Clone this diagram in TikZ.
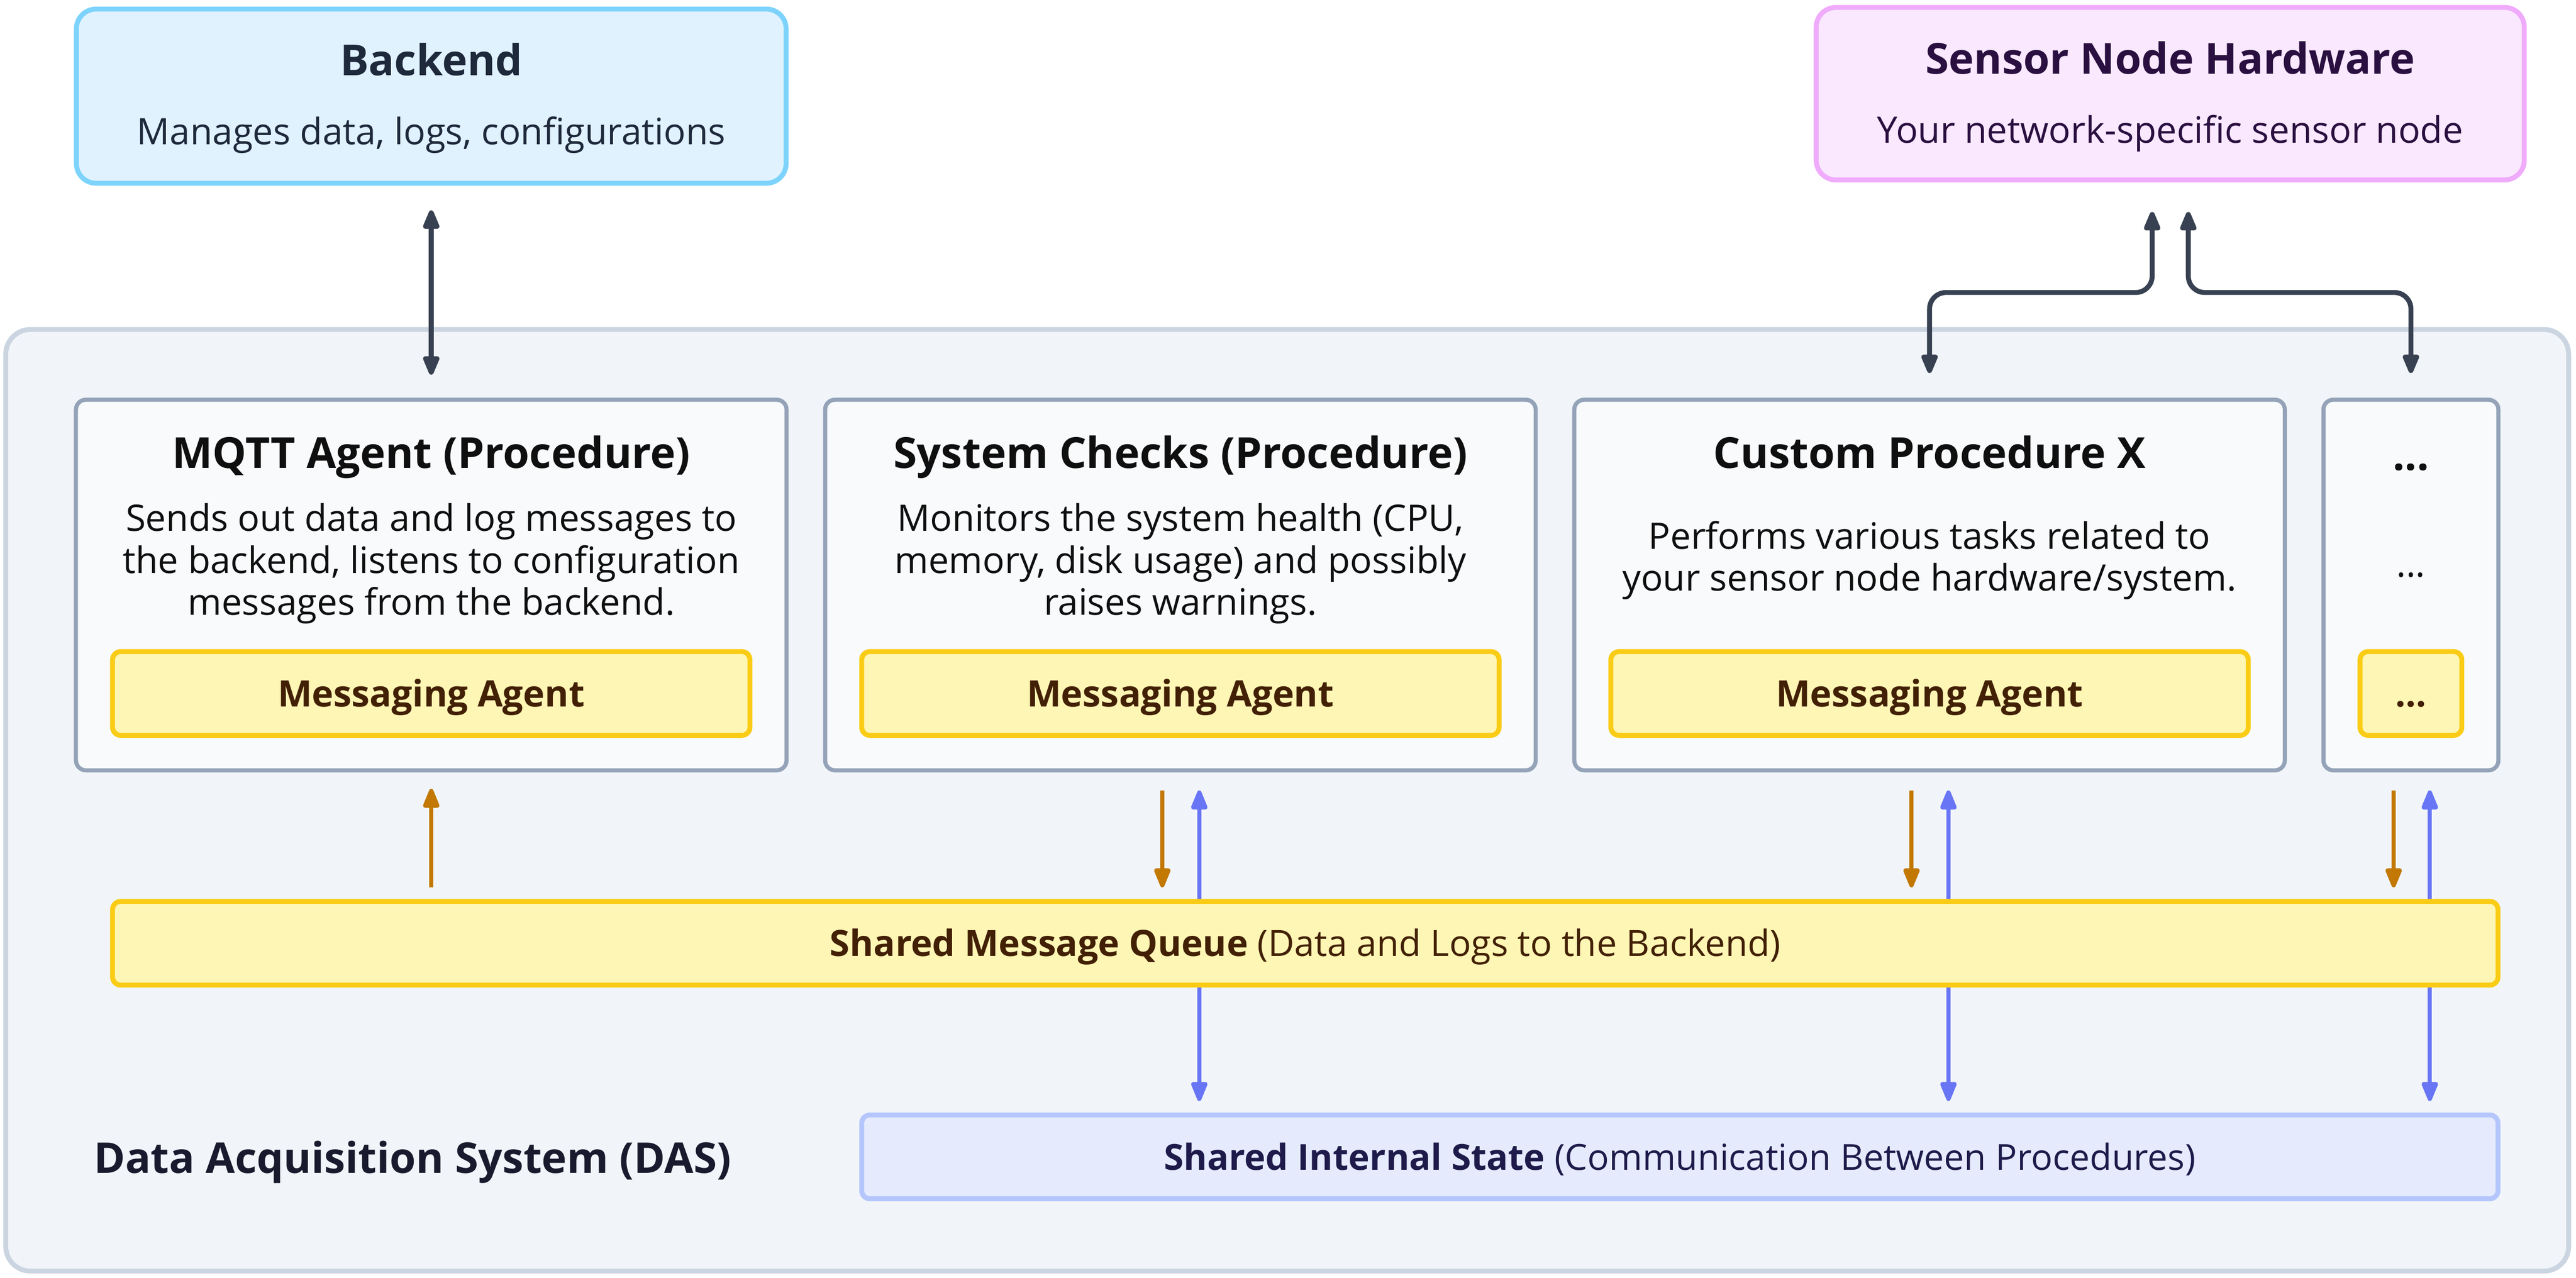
\documentclass[tikz,border=0pt]{standalone}
\usepackage{fontspec}
\setmainfont{Open Sans}
\usetikzlibrary{arrows.meta,calc}
\definecolor{bkfill}{HTML}{E0F2FE}
\definecolor{bkline}{HTML}{7DD3FC}
\definecolor{bktext}{HTML}{1E293B}
\definecolor{snfill}{HTML}{FAE8FF}
\definecolor{snline}{HTML}{F0ABFC}
\definecolor{sntext}{HTML}{2A1040}
\definecolor{dasfill}{HTML}{F1F5F9}
\definecolor{dasline}{HTML}{CBD5E1}
\definecolor{dastext}{HTML}{1A1A2E}
\definecolor{prfill}{HTML}{F8FAFC}
\definecolor{prline}{HTML}{94A3B8}
\definecolor{prtext}{HTML}{0F0F0F}
\definecolor{ylfill}{HTML}{FEF6B4}
\definecolor{ylline}{HTML}{FACC15}
\definecolor{yltext}{HTML}{422006}
\definecolor{stfill}{HTML}{E5EBFD}
\definecolor{stline}{HTML}{B4C6FC}
\definecolor{sttext}{HTML}{1E1B4B}
\definecolor{darkarrow}{HTML}{374151}
\definecolor{orangearrow}{HTML}{C27803}
\definecolor{bluearrow}{HTML}{6875F5}
\tikzset{
  tip/.tip={Triangle[length=14pt,width=10.5pt,round]},
  bigbox/.style={draw, line width=3pt, rounded corners=12pt, inner sep=0pt, minimum width=432pt, minimum height=106pt},
  backendbox/.style={bigbox, draw=bkline, fill=bkfill},
  sensorbox/.style={bigbox, draw=snline, fill=snfill},
  dasbox/.style={draw=dasline, fill=dasfill, line width=3pt, rounded corners=15pt, inner sep=0pt, minimum width=1560pt, minimum height=573pt},
  procbox/.style={draw=prline, fill=prfill, line width=2.5pt, rounded corners=6pt, inner sep=0pt, minimum width=432.5pt, minimum height=225.5pt},
  agentbox/.style={draw=ylline, fill=ylfill, line width=3pt, rounded corners=5pt, inner sep=0pt, minimum width=388pt, minimum height=51pt},
  statebox/.style={draw=stline, fill=stfill, line width=3pt, rounded corners=5pt, inner sep=0pt, minimum width=996pt, minimum height=51pt},
  titletext/.style={anchor=base, font=\fontsize{26}{30}\selectfont\bfseries},
  bodytext/.style={align=center, font=\fontsize{22.2}{25.5}\selectfont},
  subtext/.style={anchor=base, font=\fontsize{22.2}{25.5}\selectfont},
  agenttext/.style={anchor=base, text=yltext, font=\fontsize{22.2}{26}\selectfont\bfseries},
  darr/.style={draw=darkarrow, line width=3pt},
  oarr/.style={draw=orangearrow, line width=2.6pt, -tip},
  barr/.style={draw=bluearrow, line width=2.6pt, tip-tip},
}
\begin{document}
\begin{tikzpicture}[x=1pt,y=-1pt]
\useasboundingbox (0,0) rectangle (1568,777.5);
% containers
\node[dasbox] (das) at (783.5,487) {};
\node[backendbox] (backend) at (262.5,58.5) {};
\node[sensorbox, minimum width=431pt, minimum height=105pt] (sensor) at (1321,57) {};
% backend / sensor texts
\node[titletext, text=bktext] (backendT) at (262.5,46) {Backend};
\node[subtext, text=bktext] (backendS) at (262.5,88) {Manages data, logs, configurations};
\node[titletext, text=sntext] (sensorT) at (1321,45) {Sensor Node Hardware};
\node[subtext, text=sntext] (sensorS) at (1321,87) {Your network-specific sensor node};
% procedure boxes
\node[procbox] (mqtt) at (262.5,356) {};
\node[procbox] (sys) at (718.5,356) {};
\node[procbox] (cpx) at (1174.5,356) {};
\node[procbox, minimum width=106.5pt] (more) at (1467.5,356) {};
\node[titletext, text=prtext] (mqttT) at (262.5,285) {MQTT Agent (Procedure)};
\node[titletext, text=prtext] (sysT) at (718.5,285) {System Checks (Procedure)};
\node[titletext, text=prtext] (cpxT) at (1174.5,285) {Custom Procedure X};
\node[titletext, text=prtext] (moreT) at (1467.5,286) {...};
\node[bodytext, text=prtext] (mqttD) at (262.5,343) {Sends out data and log messages to\\the backend, listens to configuration\\messages from the backend.};
\node[bodytext, text=prtext] (sysD) at (718.5,343) {Monitors the system health (CPU,\\memory, disk usage) and possibly\\raises warnings.};
\node[bodytext, text=prtext] (cpxD) at (1174.5,341) {Performs various tasks related to\\your sensor node hardware/system.};
\node[subtext, text=prtext] (moreD) at (1467.5,351) {...};
% messaging agents
\node[agentbox] (mqttA) at (262.5,422) {};
\node[agentbox] (sysA) at (718.5,422) {};
\node[agentbox] (cpxA) at (1174.5,422) {};
\node[agentbox, minimum width=62pt] (moreA) at (1467.5,422) {};
\node[agenttext] (mqttAT) at (262.5,430) {Messaging Agent};
\node[agenttext] (sysAT) at (718.5,430) {Messaging Agent};
\node[agenttext] (cpxAT) at (1174.5,430) {Messaging Agent};
\node[agenttext] (moreAT) at (1467.5,430) {...};
% shared internal state
\node[statebox] (state) at (1022.5,704) {};
\node[anchor=base, text=sttext, font=\fontsize{21.8}{26}\selectfont] (stateT) at (1022.5,712) {\textbf{Shared Internal State} (Communication Between Procedures)};
% DAS label
\node[anchor=base west, inner sep=0pt, text=dastext, font=\fontsize{25.8}{30}\selectfont\bfseries] (dasT) at (57,714) {Data Acquisition System (DAS)};
% blue arrows (behind queue)
\draw[barr, shorten <=11pt, shorten >=7pt] ([xshift=11.5pt]sys.south) -- ([xshift=11.5pt]sys.south |- state.north);
\draw[barr, shorten <=11pt, shorten >=7pt] ([xshift=11.5pt]cpx.south) -- ([xshift=11.5pt]cpx.south |- state.north);
\draw[barr, shorten <=11pt, shorten >=7pt] ([xshift=11.5pt]more.south) -- ([xshift=11.5pt]more.south |- state.north);
% shared message queue
\node[agentbox, minimum width=1452pt] (queue) at (794.5,574) {};
\node[anchor=base, text=yltext, font=\fontsize{22}{26}\selectfont] (queueT) at (794.5,582) {\textbf{Shared Message Queue} (Data and Logs to the Backend)};
% orange arrows
\draw[oarr, shorten <=7pt, shorten >=10pt] (mqtt.south |- queue.north) -- (mqtt.south);
\draw[oarr, shorten <=11pt, shorten >=7pt] ([xshift=-11pt]sys.south) -- ([xshift=-11pt]sys.south |- queue.north);
\draw[oarr, shorten <=11pt, shorten >=7pt] ([xshift=-11pt]cpx.south) -- ([xshift=-11pt]cpx.south |- queue.north);
\draw[oarr, shorten <=11pt, shorten >=7pt] ([xshift=-10.5pt]more.south) -- ([xshift=-10.5pt]more.south |- queue.north);
% dark arrows
\draw[darr, tip-tip, shorten <=15pt, shorten >=14pt] (backend.south) -- (mqtt.north);
\draw[darr, tip-tip, rounded corners=10pt] ([yshift=15pt]cpx.north) -- ++(0,-49) -| ([xshift=-11pt,yshift=-18pt]sensor.south);
\draw[darr, tip-tip, rounded corners=10pt] ([yshift=15pt]more.north) -- ++(0,-49) -| ([xshift=11pt,yshift=-18pt]sensor.south);
\end{tikzpicture}
\end{document}
